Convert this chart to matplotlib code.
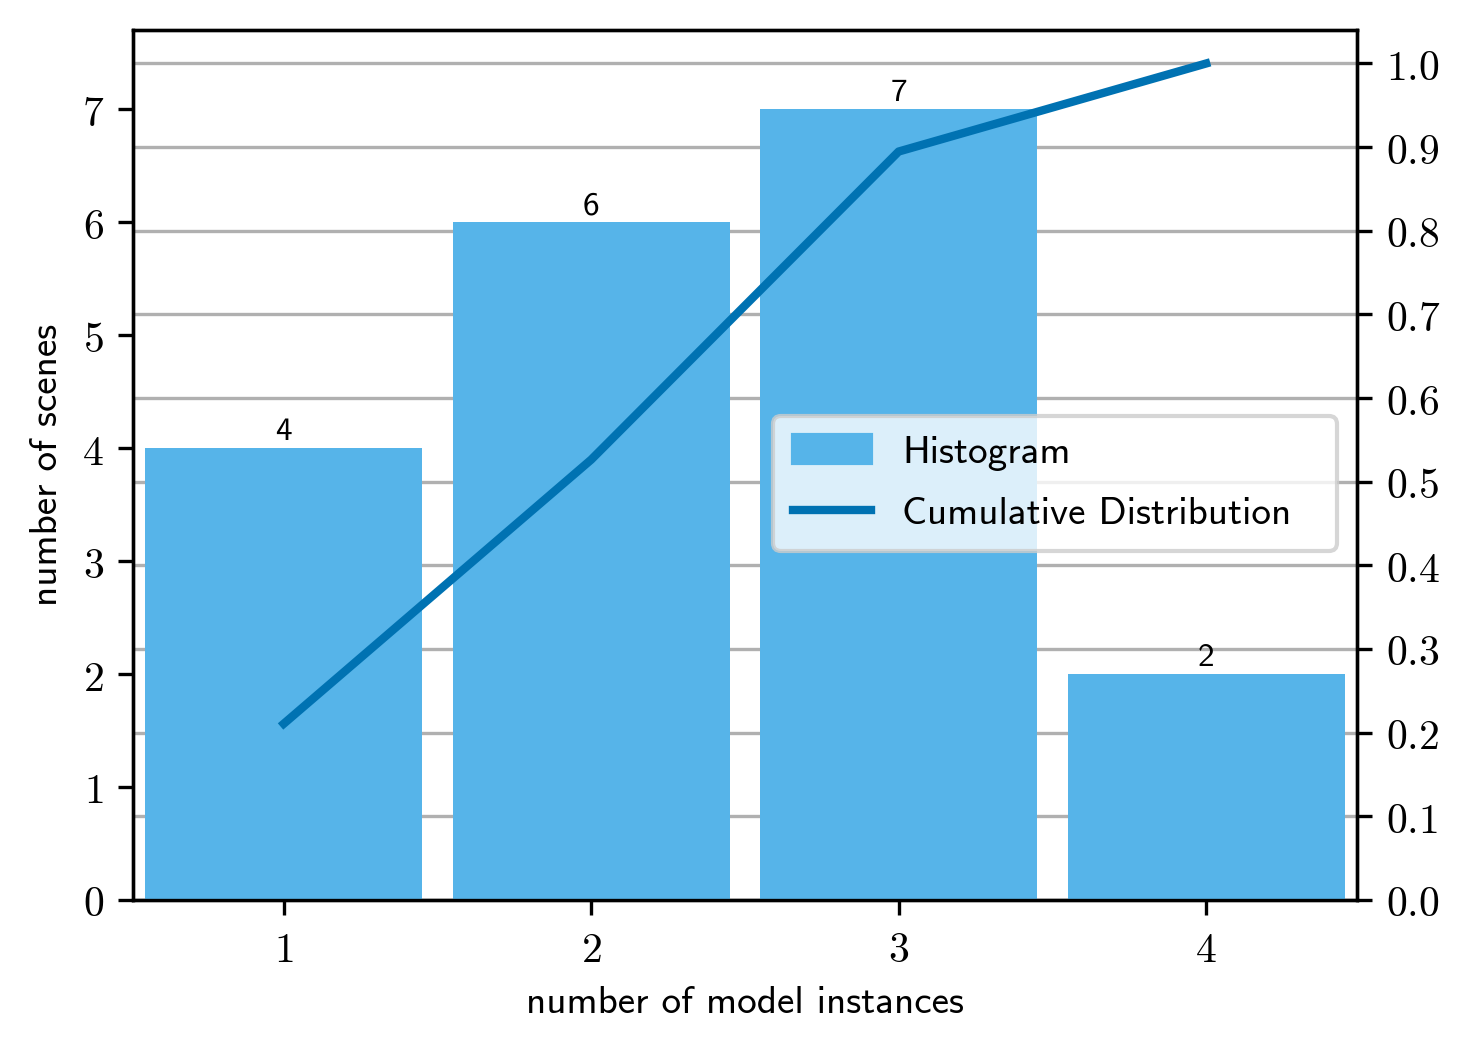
import numpy as np
import matplotlib
matplotlib.use("Agg")
import matplotlib.pyplot as plt
from matplotlib.patches import Patch
from matplotlib.lines import Line2D

plt.rcParams['mathtext.fontset'] = 'cm'
plt.rcParams['font.size'] = 10
plt.rcParams['axes.formatter.use_mathtext'] = True

# data
instances = [1, 2, 3, 4]
scenes = [4, 6, 7, 2]
cdf = np.cumsum(scenes) / np.sum(scenes)

bar_color = '#56b4e9'
line_color = '#0072b2'
sans = 'cmss10'

fig = plt.figure(figsize=(4.9, 3.5), dpi=300)
ax = fig.add_axes([0.0905, 0.143, 0.8325, 0.828])
ax2 = ax.twinx()
ax.set_zorder(ax2.get_zorder() + 1)
ax.patch.set_visible(False)

ax2.grid(True, axis='y', color='#b0b0b0', linewidth=0.8)
ax2.set_ylim(0, 1.0395)
ax2.set_yticks(np.arange(0, 1.01, 0.1))
ax2.set_yticklabels([r'$%.1f$' % v for v in np.arange(0, 1.01, 0.1)])

bars = ax.bar(instances, scenes, width=0.9, color=bar_color)
for x, v in zip(instances, scenes):
    ax.text(x, v + 0.02, str(v), ha='center', va='bottom', fontsize=8, family=sans)

ax.plot(instances, cdf, color=line_color, linewidth=2, transform=ax2.transData)

ax.set_xlim(0.51, 4.49)
ax.set_ylim(0, 7.7)
ax.set_xticks(instances)
ax.set_xticklabels([r'$%d$' % v for v in instances])
ax.set_yticks(range(8))
ax.set_yticklabels([r'$%d$' % v for v in range(8)])
ax.set_xlabel('number of model instances', family=sans, fontsize=9.4, labelpad=3.5)
ax.set_ylabel('number of scenes', family=sans, fontsize=9.4, labelpad=4)

handles = [Patch(color=bar_color), Line2D([], [], color=line_color, linewidth=2)]
leg = ax.legend(handles, ['Histogram', 'Cumulative Distribution  '],
                loc='center right', bbox_to_anchor=(1.0, 0.479),
                labelspacing=0.65, borderpad=0.5,
                prop={'family': sans, 'size': 9.4})

fig.savefig('out.png', dpi=300)
